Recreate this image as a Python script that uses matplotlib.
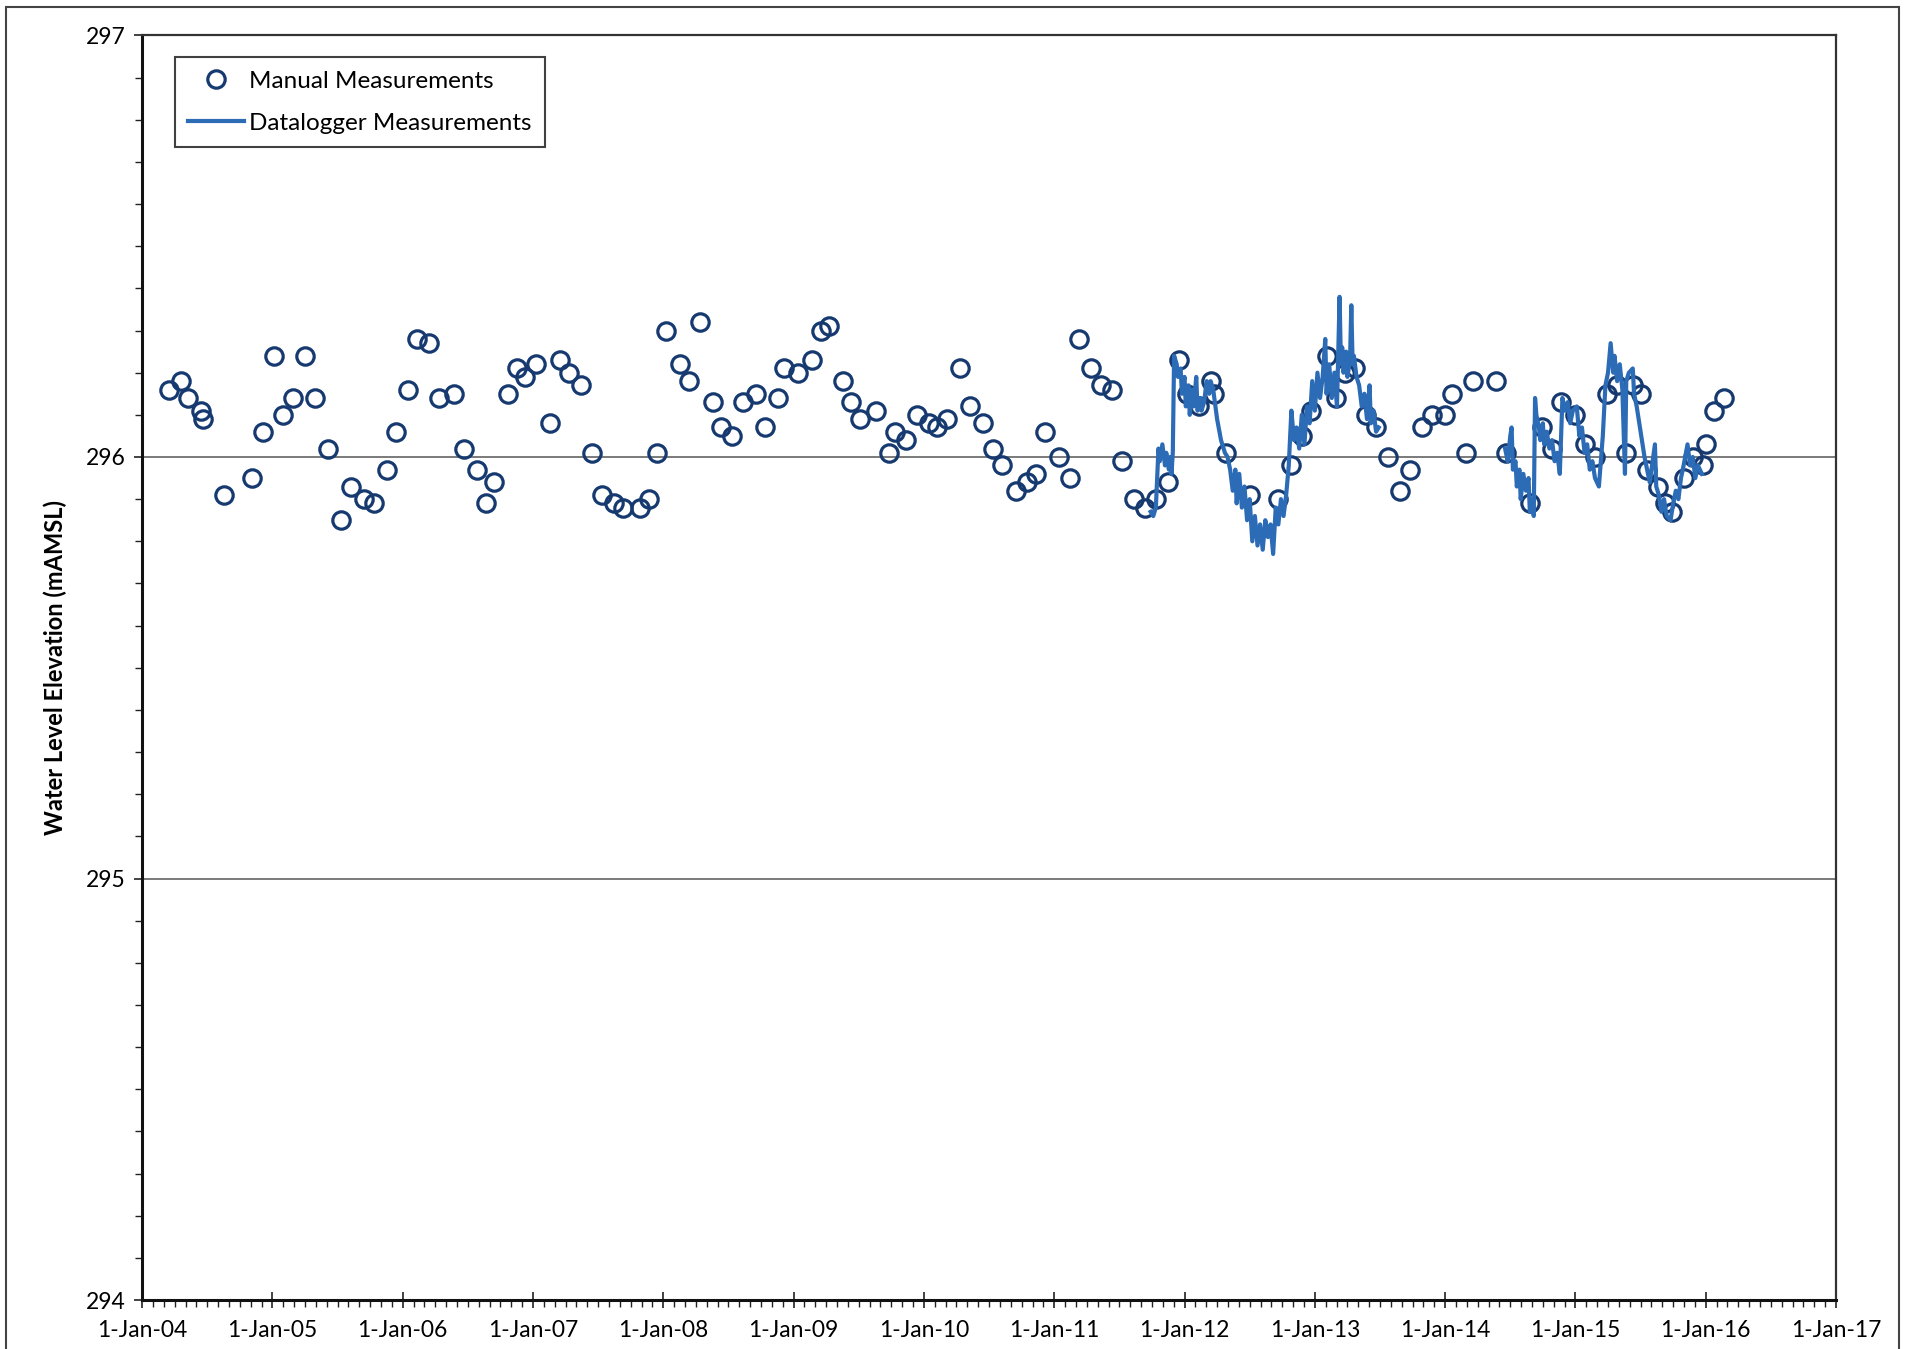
import numpy as np
import matplotlib
matplotlib.use("Agg")
import matplotlib.pyplot as plt
from matplotlib.ticker import MultipleLocator, FixedLocator
from matplotlib.patches import Rectangle

plt.rcParams['font.family'] = ['Lato', 'DejaVu Sans']

# manual water level readings (decimal year, mAMSL)
manual_year = [
    2004.21, 2004.30, 2004.35, 2004.45, 2004.47, 2004.63, 2004.84, 2004.93,
    2005.01, 2005.08, 2005.16, 2005.25, 2005.33, 2005.43, 2005.53, 2005.60,
    2005.70, 2005.78, 2005.88, 2005.95, 2006.04, 2006.11, 2006.20, 2006.28,
    2006.39, 2006.47, 2006.57, 2006.64, 2006.70, 2006.81, 2006.88, 2006.94,
    2007.02, 2007.13, 2007.21, 2007.28, 2007.37, 2007.45, 2007.53, 2007.62,
    2007.69, 2007.82, 2007.89, 2007.95, 2008.02, 2008.13, 2008.20, 2008.28,
    2008.38, 2008.44, 2008.53, 2008.61, 2008.71, 2008.78, 2008.88, 2008.93,
    2009.03, 2009.14, 2009.21, 2009.27, 2009.38, 2009.44, 2009.51, 2009.63,
    2009.73, 2009.78, 2009.86, 2009.95, 2010.04, 2010.10, 2010.18, 2010.28,
    2010.35, 2010.45, 2010.53, 2010.60, 2010.71, 2010.79, 2010.86, 2010.93,
    2011.04, 2011.12, 2011.19, 2011.28, 2011.36, 2011.44, 2011.52, 2011.61,
    2011.70, 2011.78, 2011.87, 2011.96, 2012.02, 2012.11, 2012.20, 2012.23,
    2012.32, 2012.50, 2012.72, 2012.82, 2012.90, 2012.97, 2013.09, 2013.16,
    2013.23, 2013.31, 2013.39, 2013.47, 2013.56, 2013.65, 2013.73, 2013.82,
    2013.90, 2014.00, 2014.05, 2014.16, 2014.21, 2014.39, 2014.47, 2014.65,
    2014.74, 2014.82, 2014.89, 2015.00, 2015.07, 2015.15, 2015.24, 2015.32,
    2015.39, 2015.44, 2015.50, 2015.55, 2015.63, 2015.69, 2015.74, 2015.83,
    2015.90, 2015.98, 2016.00, 2016.06, 2016.14,
]
manual_level = [
    296.16, 296.18, 296.14, 296.11, 296.09, 295.91, 295.95, 296.06,
    296.24, 296.10, 296.14, 296.24, 296.14, 296.02, 295.85, 295.93,
    295.90, 295.89, 295.97, 296.06, 296.16, 296.28, 296.27, 296.14,
    296.15, 296.02, 295.97, 295.89, 295.94, 296.15, 296.21, 296.19,
    296.22, 296.08, 296.23, 296.20, 296.17, 296.01, 295.91, 295.89,
    295.88, 295.88, 295.90, 296.01, 296.30, 296.22, 296.18, 296.32,
    296.13, 296.07, 296.05, 296.13, 296.15, 296.07, 296.14, 296.21,
    296.20, 296.23, 296.30, 296.31, 296.18, 296.13, 296.09, 296.11,
    296.01, 296.06, 296.04, 296.10, 296.08, 296.07, 296.09, 296.21,
    296.12, 296.08, 296.02, 295.98, 295.92, 295.94, 295.96, 296.06,
    296.00, 295.95, 296.28, 296.21, 296.17, 296.16, 295.99, 295.90,
    295.88, 295.90, 295.94, 296.23, 296.15, 296.12, 296.18, 296.15,
    296.01, 295.91, 295.90, 295.98, 296.05, 296.11, 296.24, 296.14,
    296.20, 296.21, 296.10, 296.07, 296.00, 295.92, 295.97, 296.07,
    296.10, 296.10, 296.15, 296.01, 296.18, 296.18, 296.01, 295.89,
    296.07, 296.02, 296.13, 296.10, 296.03, 296.00, 296.15, 296.17,
    296.01, 296.17, 296.15, 295.97, 295.93, 295.89, 295.87, 295.95,
    296.00, 295.98, 296.03, 296.11, 296.14,
]

# datalogger record, first deployment
logger1_year = [
    2011.74, 2011.76, 2011.78, 2011.80, 2011.81, 2011.83, 2011.85, 2011.86,
    2011.88, 2011.89, 2011.90, 2011.91, 2011.92, 2011.94, 2011.95, 2011.97,
    2011.98, 2012.00, 2012.01, 2012.03, 2012.04, 2012.06, 2012.07, 2012.09,
    2012.10, 2012.12, 2012.13, 2012.15, 2012.17, 2012.19, 2012.20, 2012.22,
    2012.25, 2012.28, 2012.31, 2012.33, 2012.35, 2012.37, 2012.39, 2012.40,
    2012.42, 2012.44, 2012.46, 2012.48, 2012.50, 2012.52, 2012.54, 2012.56,
    2012.58, 2012.60, 2012.62, 2012.64, 2012.66, 2012.68, 2012.70, 2012.72,
    2012.74, 2012.76, 2012.78, 2012.80, 2012.82, 2012.84, 2012.86, 2012.88,
    2012.90, 2012.92, 2012.94, 2012.96, 2012.98, 2013.00, 2013.02, 2013.04,
    2013.06, 2013.08, 2013.09, 2013.11, 2013.13, 2013.15, 2013.17, 2013.19,
    2013.20, 2013.21, 2013.22, 2013.24, 2013.25, 2013.27, 2013.28, 2013.29,
    2013.30, 2013.32, 2013.34, 2013.36, 2013.38, 2013.40, 2013.42, 2013.43,
    2013.45, 2013.47, 2013.49,
]
logger1_level = [
    295.87, 295.86, 295.88, 296.02, 295.99, 296.03, 295.98, 296.01,
    295.97, 296.00, 295.96, 296.01, 296.24, 296.22, 296.19, 296.21,
    296.15, 296.19, 296.12, 296.17, 296.10, 296.16, 296.12, 296.19,
    296.11, 296.14, 296.11, 296.13, 296.18, 296.15, 296.18, 296.16,
    296.09, 296.04, 296.01, 296.00, 295.97, 295.92, 295.97, 295.89,
    295.96, 295.88, 295.93, 295.85, 295.90, 295.80, 295.86, 295.79,
    295.84, 295.78, 295.85, 295.81, 295.84, 295.77, 295.88, 295.84,
    295.90, 295.86, 295.91, 295.98, 296.11, 296.04, 296.07, 296.02,
    296.10, 296.03, 296.12, 296.08, 296.18, 296.11, 296.20, 296.14,
    296.19, 296.28, 296.15, 296.22, 296.14, 296.20, 296.12, 296.38,
    296.22, 296.26, 296.20, 296.25, 296.19, 296.23, 296.36, 296.22,
    296.24, 296.19, 296.17, 296.12, 296.15, 296.09, 296.17, 296.08,
    296.11, 296.06, 296.07,
]

# datalogger record, second deployment
logger2_year = [
    2014.46, 2014.48, 2014.50, 2014.51, 2014.52, 2014.54, 2014.55, 2014.57,
    2014.58, 2014.60, 2014.62, 2014.64, 2014.65, 2014.67, 2014.68, 2014.69,
    2014.70, 2014.72, 2014.73, 2014.75, 2014.76, 2014.78, 2014.80, 2014.82,
    2014.84, 2014.86, 2014.88, 2014.90, 2014.92, 2014.94, 2014.96, 2014.98,
    2015.01, 2015.03, 2015.05, 2015.07, 2015.09, 2015.11, 2015.13, 2015.15,
    2015.18, 2015.21, 2015.23, 2015.25, 2015.27, 2015.29, 2015.30, 2015.32,
    2015.34, 2015.36, 2015.38, 2015.39, 2015.41, 2015.44, 2015.45, 2015.47,
    2015.49, 2015.51, 2015.53, 2015.55, 2015.57, 2015.61, 2015.62, 2015.64,
    2015.66, 2015.68, 2015.70, 2015.73, 2015.75, 2015.77, 2015.79, 2015.81,
    2015.83, 2015.86, 2015.88, 2015.90, 2015.92, 2015.94, 2015.97,
]
logger2_level = [
    296.02, 295.99, 296.05, 296.07, 295.97, 295.99, 295.93, 295.97,
    295.90, 295.96, 295.92, 295.95, 295.87, 295.90, 295.86, 296.14,
    296.10, 296.07, 296.04, 296.08, 296.03, 296.06, 296.02, 296.04,
    295.99, 296.01, 295.96, 296.14, 296.11, 296.13, 296.08, 296.11,
    296.12, 296.05, 296.07, 296.01, 296.03, 295.97, 295.99, 295.95,
    295.93, 296.05, 296.17, 296.20, 296.27, 296.20, 296.24, 296.18,
    296.22, 296.16, 295.96, 296.18, 296.20, 296.21, 296.15, 296.12,
    296.08, 296.04, 296.00, 295.97, 295.94, 296.03, 295.93, 295.91,
    295.87, 295.90, 295.86, 295.85, 295.89, 295.92, 295.90, 295.95,
    295.98, 296.03, 295.98, 296.00, 295.95, 295.98, 295.96,
]

years = list(range(2004, 2018))
year_labels = ['1-Jan-%02d' % (y % 100) for y in years]

fig = plt.figure(figsize=(19.07, 13.49), dpi=100)
ax = fig.add_axes([0.0745, 0.0363, 0.8883, 0.9374])

navy = '#163a70'
blue = '#2c6bb6'

# logger line, broken between deployments
log_x = logger1_year + [np.nan] + logger2_year
log_y = logger1_level + [np.nan] + logger2_level
ax.plot(manual_year, manual_level, linestyle='none', marker='o', markersize=12.5,
        markerfacecolor='none', markeredgecolor=navy, markeredgewidth=2.3,
        label='Manual Measurements', zorder=3)
ax.plot(log_x, log_y, color=blue, linewidth=3.0, label='Datalogger Measurements', zorder=4)

ax.set_xlim(2004, 2017)
ax.set_ylim(294, 297)

ax.xaxis.set_major_locator(FixedLocator(years))
ax.set_xticklabels(year_labels)
ax.xaxis.set_minor_locator(MultipleLocator(1 / 12))
ax.yaxis.set_major_locator(MultipleLocator(1))
ax.yaxis.set_minor_locator(MultipleLocator(0.1))

ax.tick_params(axis='x', which='major', direction='inout', length=11, width=1.2,
               labelsize=16.5, pad=9, color='#222222')
ax.tick_params(axis='x', which='minor', direction='out', length=5, width=1.0, color='#222222')
ax.tick_params(axis='y', which='major', direction='out', length=6, width=1.2,
               labelsize=16.5, pad=6, color='#222222')
ax.tick_params(axis='y', which='minor', direction='out', length=5, width=1.0, color='#222222')

for y in (295, 296):
    ax.axhline(y, color='#7a7a7a', linewidth=1.4, zorder=1)

for side in ('left', 'bottom'):
    ax.spines[side].set_linewidth(2.2)
    ax.spines[side].set_color('#111111')
for side in ('top', 'right'):
    ax.spines[side].set_linewidth(1.6)
    ax.spines[side].set_color('#333333')

ax.set_ylabel('Water Level Elevation (mAMSL)', fontsize=17, fontweight='bold')
ax.yaxis.set_label_coords(-0.044, 0.5)

leg = ax.legend(loc='upper left', bbox_to_anchor=(0.0195, 0.9826), borderaxespad=0,
                fontsize=17.5, frameon=True, fancybox=False, edgecolor='#111111',
                handlelength=2.3, handletextpad=0.2, borderpad=0.55, labelspacing=0.85)
leg.get_frame().set_linewidth(1.5)

# scanned sheet border
fig.add_artist(Rectangle((0.003, -0.01), 0.993, 1.005, transform=fig.transFigure,
                         fill=False, edgecolor='#444444', linewidth=1.5))

fig.savefig('out.png', dpi=100)
